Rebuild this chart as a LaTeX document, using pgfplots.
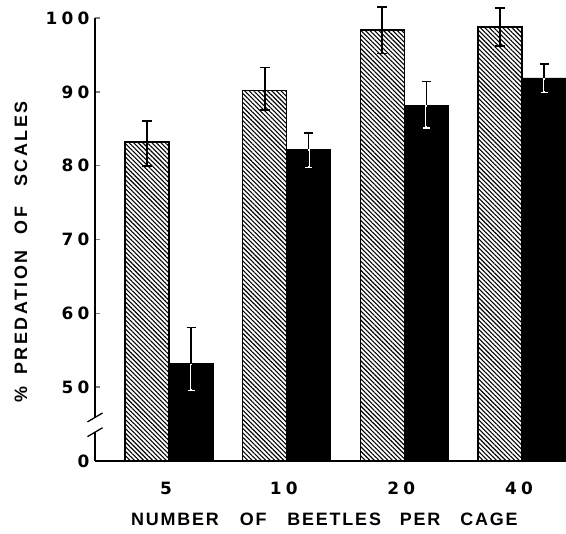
\documentclass[border=0pt]{standalone}
\usepackage{fontspec}
\setmainfont{Liberation Sans}
\newfontfamily\numfont[LetterSpace=25]{DejaVu Sans Bold}
\newfontfamily\ylabfont[LetterSpace=14]{Liberation Sans Bold}
\newfontfamily\xlabfont[LetterSpace=10]{Liberation Sans Bold}
\usepackage{pgfplots}
\pgfplotsset{compat=1.18}
\usepackage{pgfplotstable}
\usetikzlibrary{patterns.meta}

% display value = value - 40 (axis break: 0 is shown where 40 would be)
\pgfplotstableread{
x h hp hm b bp bm
0 83.2 2.8 3.2 53.2 4.9 3.7
1 90.2 3.1 2.7 82.2 2.2 2.5
2 98.4 3.1 3.2 88.2 3.2 3.1
3 98.8 2.6 2.6 91.9 1.9 2.0
}\datatable

\begin{document}
\begin{tikzpicture}
\path[use as bounding box] (0bp,0bp) rectangle (566bp,534bp);
\begin{axis}[
  at={(95bp,73bp)}, anchor=south west,
  scale only axis, width=471bp, height=443bp,
  xmin=-0.629, xmax=3.374, ymin=0, ymax=60,
  axis lines*=left,
  axis line style={line width=1.3bp},
  xtick={0,1,2,3}, xticklabels={5,10,20,40},
  major x tick style={draw=none},
  ytick={0,10,20,30,40,50,60},
  yticklabels={0,50,60,70,80,90,100},
  tick align=inside, major tick length=5bp,
  major y tick style={line width=1.6bp},
  clip=false,
  tick label style={font=\numfont\fontsize{17}{20}\selectfont},
  yticklabel style={xshift=-2bp},
  xticklabel style={anchor=center, yshift=-27bp, xshift=-3bp},
  xlabel={NUMBER\hspace{21bp}OF\hspace{21bp}BEETLES\hspace{19bp}PER\hspace{20bp}CAGE},
  xlabel style={at={(axis description cs:0.487,-0.131)}, anchor=center,
    font=\xlabfont\fontsize{18}{21}\selectfont},
  ylabel={\%\hspace{12bp}PREDATION\hspace{16bp}OF\hspace{20bp}SCALES},
  ylabel style={at={(axis description cs:-0.157,0.472)}, anchor=center, rotate=0,
    font=\ylabfont\fontsize{18}{21}\selectfont},
]
\addplot[ybar, bar width=0.374, bar shift=0, draw=black, line width=1.5bp,
  pattern={Lines[angle=-45,distance=3.2bp,line width=1.1bp]},
  error bars/.cd, y dir=both, y explicit,
  error bar style={line width=1.8bp, black},
  error mark options={rotate=90, mark size=5bp, line width=1.8bp, black}]
  table[x expr=\thisrow{x}-0.187, y expr=\thisrow{h}-40, y error plus=hp, y error minus=hm] {\datatable};
\addplot[ybar, bar width=0.374, bar shift=0, draw=black, fill=black, line width=0.5bp,
  error bars/.cd, y dir=plus, y explicit,
  error bar style={line width=1.6bp, black},
  error mark options={rotate=90, mark size=4.5bp, line width=1.6bp, black}]
  table[x expr=\thisrow{x}+0.187, y expr=\thisrow{b}-40, y error plus=bp, y error minus=bm] {\datatable};
\addplot[ybar, bar width=0.374, bar shift=0, draw=none, fill=none, forget plot,
  error bars/.cd, y dir=minus, y explicit,
  error bar style={line width=2.2bp, white},
  error mark options={rotate=90, mark size=3.5bp, line width=1.2bp, white}]
  table[x expr=\thisrow{x}+0.187, y expr=\thisrow{b}-40, y error plus=bp, y error minus=bm] {\datatable};
\addplot[ybar, bar width=0.374, bar shift=0, draw=none, fill=none, forget plot,
  error bars/.cd, y dir=minus, y explicit,
  error bar style={line width=0.7bp, black}, error mark=none]
  table[x expr=\thisrow{x}+0.187, y expr=\thisrow{b}-40-0.25, y error plus=bp, y error minus expr=\thisrow{bm}-0.5] {\datatable};
\coordinate (g1) at (axis cs:-0.645,3.9);
\coordinate (g2) at (axis cs:-0.613,5.9);
\coordinate (s1a) at (axis cs:-0.693,3.3);
\coordinate (s1b) at (axis cs:-0.565,4.5);
\coordinate (s2a) at (axis cs:-0.693,5.3);
\coordinate (s2b) at (axis cs:-0.565,6.5);
\end{axis}
\fill[white] (g1) rectangle (g2);
\draw[line width=1.3bp] (s1a) -- (s1b);
\draw[line width=1.3bp] (s2a) -- (s2b);
\end{tikzpicture}
\end{document}
